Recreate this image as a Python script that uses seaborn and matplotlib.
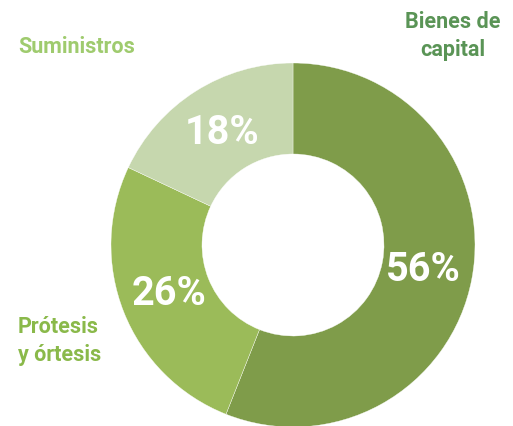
import numpy as np
import matplotlib
matplotlib.use("Agg")
import matplotlib.pyplot as plt
import seaborn as sns

categories = ["Bienes de\ncapital", "Prótesis\ny órtesis", "Suministros"]
shares = [56, 26, 18]
slice_colors = ["#7f9c4a", "#9bbb59", "#c6d7ae"]
label_colors = ["#5a9456", "#8ab94a", "#9fcb6e"]

sns.set_theme(style="white")
plt.rcParams["font.family"] = ["Roboto", "DejaVu Sans"]

fig = plt.figure(figsize=(5.13, 4.26), dpi=100)
ax = fig.add_axes([0, 0, 1, 1])
ax.set_xlim(0, 513)
ax.set_ylim(0, 426)
ax.set_aspect("equal")
ax.axis("off")

cx, cy, r = 293, 426 - 245, 182
wedges, texts, autotexts = ax.pie(
    shares, colors=slice_colors, startangle=90, counterclock=False,
    center=(cx, cy), radius=r, autopct="%d%%", pctdistance=0.73,
    wedgeprops=dict(width=r * 0.5, edgecolor="white", linewidth=0.25),
    textprops=dict(color="white", fontsize=28.5, fontweight="bold"),
)
ax.set_xlim(0, 513)
ax.set_ylim(0, 426)

# category labels
ax.text(453, 426 - 36, categories[0], color=label_colors[0], fontsize=15.5,
        fontweight="bold", ha="center", va="center", linespacing=1.4)
ax.text(18, 426 - 341, categories[1], color=label_colors[1], fontsize=15.5,
        fontweight="bold", ha="left", va="center", linespacing=1.4)
ax.text(18, 426 - 47, categories[2], color=label_colors[2], fontsize=15.5,
        fontweight="bold", ha="left", va="center")

fig.savefig("out.png", dpi=100)
